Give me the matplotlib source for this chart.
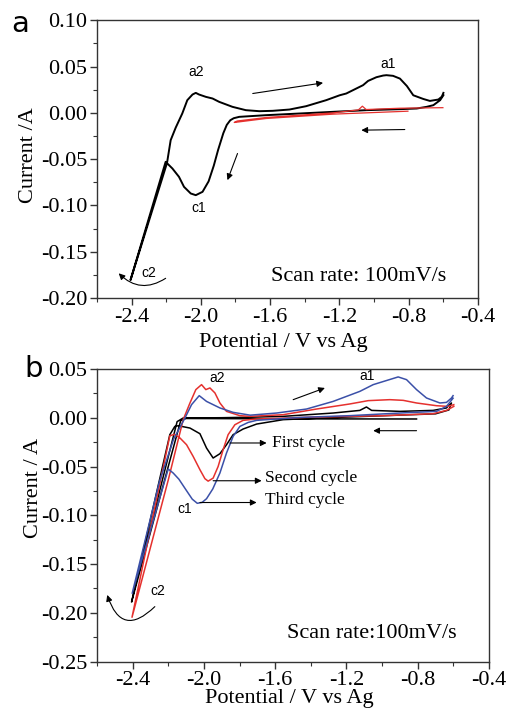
import matplotlib
matplotlib.use("Agg")
import matplotlib.pyplot as plt
from matplotlib.ticker import MultipleLocator, FormatStrFormatter

plt.rcParams['font.family'] = ['Liberation Serif', 'DejaVu Serif']
plt.rcParams['axes.unicode_minus'] = False

# --- panel a: one CV loop (black) and blank electrode (red) ---
a_black_pot = [-0.599, -0.618, -0.657, -0.696, -0.753, -0.850, -1.044, -1.237, -1.430, -1.623,
               -1.778, -1.810, -1.830, -1.850, -1.870, -1.900, -1.925, -1.955, -1.990, -2.029,
               -2.058, -2.097, -2.126, -2.164, -2.203, -2.406, -2.195, -2.174, -2.145, -2.107,
               -2.078, -2.048, -2.029, -2.010, -1.971, -1.932, -1.894, -1.817, -1.740, -1.662,
               -1.585, -1.488, -1.392, -1.276, -1.198, -1.160, -1.063, -1.034, -0.986, -0.947,
               -0.928, -0.890, -0.850, -0.810, -0.773, -0.715, -0.677, -0.628, -0.608, -0.599]
a_black_cur = [0.0191, 0.0137, 0.0083, 0.0065, 0.0047, 0.0040, 0.0029, 0.0011, -0.0007, -0.0025,
               -0.0043, -0.0058, -0.0080, -0.0130, -0.0220, -0.0400, -0.0570, -0.0740, -0.0853, -0.0889,
               -0.0871, -0.0799, -0.0691, -0.0601, -0.0529, -0.1806, -0.0540, -0.0295, -0.0160, -0.0007,
               0.0137, 0.0198, 0.0216, 0.0198, 0.0173, 0.0155, 0.0119, 0.0065, 0.0029, 0.0018,
               0.0022, 0.0036, 0.0072, 0.0137, 0.0190, 0.0209, 0.0299, 0.0345, 0.0385, 0.0403,
               0.0407, 0.0400, 0.0370, 0.0290, 0.0190, 0.0150, 0.0129, 0.0144, 0.0175, 0.0216]

a_red_pot = [-0.804, -1.237, -1.623, -1.807, -1.790, -1.623, -1.237, -1.090, -1.067, -1.045, -0.850, -0.602]
a_red_cur = [0.0018, -0.0014, -0.0061, -0.0104, -0.0088, -0.0050, 0.0000, 0.0032, 0.0072, 0.0036, 0.0050, 0.0056]

# --- panel b: three successive cycles ---
b_blue_pot = [-0.602, -0.639, -0.695, -0.901, -1.181, -1.461, -1.704, -1.751, -1.798, -1.836,
              -1.873, -1.910, -1.950, -1.985, -2.010, -2.037, -2.065, -2.100, -2.140, -2.172,
              -2.200, -2.402, -2.250, -2.170, -2.106, -2.069, -2.026, -1.985, -1.910, -1.836,
              -1.740, -1.592, -1.424, -1.275, -1.125, -1.050, -0.910, -0.863, -0.807, -0.751,
              -0.676, -0.639, -0.611, -0.602]
b_blue_cur = [0.0200, 0.0116, 0.0065, 0.0048, 0.0021, 0.0003, -0.0027, -0.0048, -0.0089, -0.0192,
              -0.0362, -0.0567, -0.0730, -0.0830, -0.0868, -0.0877, -0.0835, -0.0740, -0.0630, -0.0567,
              -0.0526, -0.1800, -0.0660, -0.0220, -0.0003, 0.0134, 0.0226, 0.0167, 0.0100, 0.0055,
              0.0026, 0.0048, 0.0089, 0.0167, 0.0270, 0.0339, 0.0418, 0.0390, 0.0288, 0.0202,
              0.0151, 0.0157, 0.0202, 0.0226]

b_red_pot = [-0.598, -0.639, -0.714, -0.994, -1.368, -1.704, -1.780, -1.826, -1.864, -1.892,
             -1.920, -1.948, -1.976, -1.994, -2.022, -2.060, -2.097, -2.134, -2.165, -2.191,
             -2.403, -2.200, -2.116, -2.078, -2.045, -2.013, -1.989, -1.966, -1.938, -1.910,
             -1.873, -1.798, -1.742, -1.555, -1.368, -1.181, -1.078, -0.957, -0.882, -0.807,
             -0.695, -0.630, -0.598]
b_red_cur = [0.0116, 0.0075, 0.0041, 0.0021, 0.0007, -0.0013, -0.0027, -0.0072, -0.0174, -0.0328,
             -0.0500, -0.0619, -0.0650, -0.0625, -0.0533, -0.0397, -0.0277, -0.0208, -0.0170, -0.0185,
             -0.2045, -0.0640, -0.0020, 0.0151, 0.0288, 0.0339, 0.0288, 0.0305, 0.0254, 0.0151,
             0.0065, 0.0021, 0.0014, 0.0031, 0.0089, 0.0141, 0.0175, 0.0185, 0.0178, 0.0151,
             0.0123, 0.0116, 0.0134]

b_black_pot = [-0.807, -1.500, -2.100, -2.130, -2.405, -2.150, -2.116, -1.900, -1.742, -1.555,
               -1.275, -1.125, -1.088, -1.059, -0.901, -0.714, -0.639, -0.611, -0.625, -0.700,
               -1.000, -1.300, -1.555, -1.704, -1.780, -1.836, -1.873, -1.910, -1.948, -1.985,
               -2.022, -2.078, -2.144, -2.163, -2.191, -2.405]
b_black_cur = [-0.0013, -0.0012, -0.0008, -0.0030, -0.1885, -0.0040, -0.0003, 0.0000, 0.0005, 0.0014,
               0.0048, 0.0075, 0.0110, 0.0075, 0.0065, 0.0075, 0.0100, 0.0151, 0.0080, 0.0040,
               0.0020, 0.0000, -0.0020, -0.0065, -0.0116, -0.0174, -0.0277, -0.0369, -0.0413, -0.0311,
               -0.0164, -0.0106, -0.0082, -0.0089, -0.0174, -0.1885]

x_ticks = [-2.4, -2.0, -1.6, -1.2, -0.8, -0.4]

RED = '#e5312e'
BLUE = '#3b50a8'


def style_axes(ax, ylim, ymajor):
    ax.set_xlim(-2.6, -0.4)
    ax.set_ylim(*ylim)
    ax.set_xticks(x_ticks)
    ax.xaxis.set_minor_locator(MultipleLocator(0.2))
    ax.yaxis.set_major_locator(MultipleLocator(ymajor))
    ax.yaxis.set_minor_locator(MultipleLocator(ymajor / 2))
    ax.xaxis.set_major_formatter(FormatStrFormatter('%.1f'))
    ax.yaxis.set_major_formatter(FormatStrFormatter('%.2f'))
    ax.tick_params(which='both', direction='out', top=False, right=False, labelsize=16,
                   color='#333333', pad=2)
    ax.tick_params(which='major', length=5, width=1)
    ax.tick_params(which='minor', length=3, width=0.8)
    for s in ax.spines.values():
        s.set_linewidth(1.0)
        s.set_color('#333333')


def arrow(ax, tail, head, lw=0.8, rad=0.0):
    ax.annotate('', xy=head, xytext=tail,
                arrowprops=dict(arrowstyle='-|>', color='k', lw=lw, mutation_scale=9,
                                shrinkA=0, shrinkB=0, connectionstyle='arc3,rad=%s' % rad))


sans = dict(family=['Liberation Sans', 'DejaVu Sans'], fontsize=10)

fig = plt.figure(figsize=(5.1, 7.14), dpi=100)

# panel a
ax1 = fig.add_axes([0.190, 0.5826, 0.747, 0.389])
ax1.plot(a_black_pot, a_black_cur, color='k', lw=1.4)
ax1.plot(a_red_pot, a_red_cur, color=RED, lw=0.9)
style_axes(ax1, (-0.20, 0.10), 0.05)
ax1.set_xlabel('Potential / V vs Ag', fontsize=16)
ax1.set_ylabel('Current /A', fontsize=16)
ax1.xaxis.set_label_coords(0.49, -0.125)
ax1.yaxis.set_label_coords(-0.155, 0.516)
ax1.text(-2.029, 0.0442, 'a2', ha='center', va='center', **sans)
ax1.text(-0.918, 0.0532, 'a1', ha='center', va='center', **sans)
ax1.text(-2.013, -0.1032, 'c1', ha='center', va='center', **sans)
ax1.text(-2.300, -0.1727, 'c2', ha='center', va='center', **sans)
ax1.text(-0.580, -0.177, 'Scan rate: 100mV/s', ha='right', va='center', fontsize=16)
arrow(ax1, (-1.700, 0.0209), (-1.294, 0.0324))
arrow(ax1, (-0.822, -0.0180), (-1.073, -0.0187))
arrow(ax1, (-1.788, -0.0439), (-1.846, -0.0727))
arrow(ax1, (-2.203, -0.1787), (-2.474, -0.1733), rad=-0.4)
fig.text(0.040, 0.966, 'a', family='DejaVu Sans', fontsize=21, ha='center', va='center')

# panel b
ax2 = fig.add_axes([0.190, 0.0733, 0.769, 0.410])
ax2.plot(b_black_pot, b_black_cur, color='k', lw=1.1)
ax2.plot(b_red_pot, b_red_cur, color=RED, lw=1.1)
ax2.plot(b_blue_pot, b_blue_cur, color=BLUE, lw=1.1)
style_axes(ax2, (-0.25, 0.05), 0.05)
ax2.set_xlabel('Potential / V vs Ag', fontsize=16)
ax2.set_ylabel('Current / A', fontsize=16)
ax2.xaxis.set_label_coords(0.49, -0.095)
ax2.yaxis.set_label_coords(-0.138, 0.594)
ax2.text(-1.925, 0.0408, 'a2', ha='center', va='center', **sans)
ax2.text(-1.087, 0.0424, 'a1', ha='center', va='center', **sans)
ax2.text(-2.106, -0.0937, 'c1', ha='center', va='center', **sans)
ax2.text(-2.256, -0.1780, 'c2', ha='center', va='center', **sans)
ax2.text(-0.583, -0.221, 'Scan rate:100mV/s', ha='right', va='center', fontsize=16)
ax2.text(-1.620, -0.0259, 'First cycle', ha='left', va='center', fontsize=12.5)
ax2.text(-1.655, -0.0619, 'Second cycle', ha='left', va='center', fontsize=12.5)
ax2.text(-1.655, -0.0841, 'Third cycle', ha='left', va='center', fontsize=12.5)
arrow(ax2, (-1.854, -0.0259), (-1.648, -0.0259))
arrow(ax2, (-1.948, -0.0646), (-1.676, -0.0646))
arrow(ax2, (-2.022, -0.0869), (-1.704, -0.0869))
arrow(ax2, (-1.499, 0.0185), (-1.321, 0.0305))
arrow(ax2, (-0.807, -0.0133), (-1.050, -0.0133))
arrow(ax2, (-2.275, -0.1936), (-2.542, -0.1816), rad=-0.8)
fig.text(0.065, 0.483, 'b', family='DejaVu Sans', fontsize=21, ha='center', va='center')

fig.savefig('out.png', dpi=100)
